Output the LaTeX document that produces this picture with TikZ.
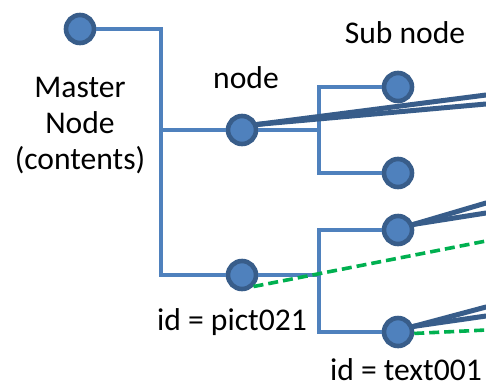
\documentclass[tikz,border=0pt]{standalone}
\usepackage{fontspec}
\setmainfont{Carlito}
\usetikzlibrary{positioning}
\definecolor{dotfill}{HTML}{4F81BD}
\definecolor{dotrim}{HTML}{385D8A}
\definecolor{branch}{HTML}{4F81BD}
\definecolor{idgreen}{HTML}{00B050}
\newcommand{\lblfont}{\fontsize{15.8}{18}\selectfont}
\tikzset{
  dot/.style={
    circle, draw=dotrim, fill=dotfill, line width=2.3pt,
    minimum size=14pt, inner sep=0pt
  },
  trunk/.style={branch, line width=1.7pt},
  fan/.style={dotrim, line width=2.5pt, line cap=round},
  idlink/.style={idgreen, line width=1.8pt, dash pattern=on 5pt off 2.5pt},
  lbl/.style={font=\lblfont, align=center, inner sep=0pt}
}

\begin{document}
\begin{tikzpicture}[x=0.5pt, y=-0.5pt]
  \useasboundingbox (0,0) rectangle (486,387);
  \node[dot] (master) at (80,29) {};
  \node[dot] (node) at (242,130) {};
  \node[dot] (pict) at (242,275) {};
  \node[dot] (sub1) at (398,87) {};
  \node[dot] (sub2) at (398,173) {};
  \node[dot] (sub3) at (398,230) {};
  \node[dot] (text) at (398,332) {};
  \coordinate (mroot) at (161,29);
  \coordinate (sroot) at (319,130);
  \coordinate (proot) at (319,275);
  \draw[trunk] (master) -| (mroot |- pict) -- (pict);
  \draw[trunk] (mroot |- node) -- (node);
  \draw[trunk] (node) -- (sroot);
  \draw[trunk] (sub1) -| (sroot) |- (sub2);
  \draw[trunk] (pict) -- (proot);
  \draw[trunk] (sub3) -| (proot) |- (text);
  \coordinate (n1) at (486,95);
  \coordinate (n2) at (486,104);
  \coordinate (s1) at (486,203);
  \coordinate (s2) at (486,213);
  \coordinate (t1) at (486,307);
  \coordinate (t2) at (486,316);
  \coordinate (g1) at (486,241);
  \coordinate (g2) at (486,330);
  \foreach \a/\b in {node/n1, node/n2, sub3/s1, sub3/s2, text/t1, text/t2}
    \draw[fan] (\a.20) -- (\b);
  \draw[idlink] (pict.-45) -- (g1);
  \draw[idlink] (text.-5) -- (g2);
  \node[lbl] (mlabel) at (80,126) {Master\\Node\\(contents)};
  \node[lbl] (nlabel) at (246,78) {node};
  \node[lbl] (slabel) at (405,33) {Sub node};
  \node[lbl] (plabel) at (232,322) {id = pict021};
  \node[lbl] (tlabel) at (406,370) {id = text001};
\end{tikzpicture}
\end{document}
